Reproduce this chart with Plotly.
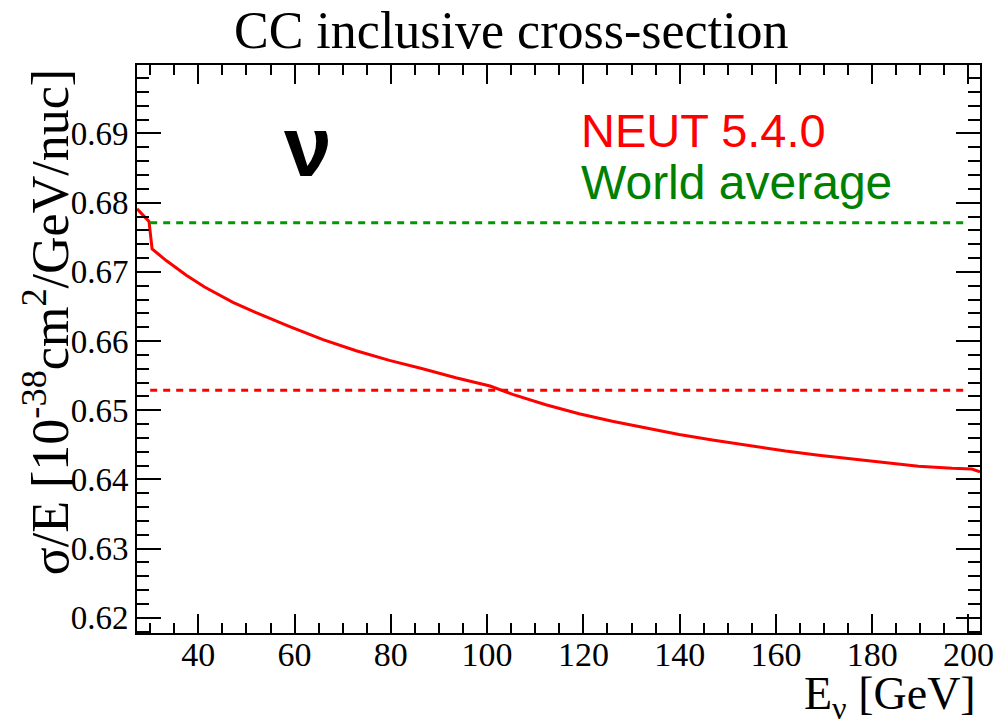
import plotly.graph_objects as go

# ---- data ----
energy_gev = [27.26, 29.75, 30.4, 33.4, 37.5, 41.3, 47.2, 52.0, 59.0, 65.9, 72.8, 79.7,
              86.6, 93.5, 100.6, 105.3, 112.2, 119.1, 126.0, 133.0, 139.9, 146.8,
              155.1, 162.0, 168.9, 175.8, 182.7, 189.6, 196.6, 200.7, 202.4]
neut_xsec = [0.6791, 0.6773, 0.6733, 0.6716, 0.6695, 0.6678, 0.6656, 0.6641, 0.6621,
             0.6602, 0.6586, 0.6572, 0.6560, 0.6547, 0.6535, 0.6523, 0.6508, 0.6495,
             0.6484, 0.6474, 0.6465, 0.6457, 0.6448, 0.6441, 0.6435, 0.6430, 0.6424,
             0.6419, 0.6416, 0.6415, 0.6411]
avg_x = [30.0, 200.0]
neut_avg = [0.6529, 0.6529]
world_avg = [0.6771, 0.6771]

x_range = [27.26, 202.4]
y_range = [0.6178, 0.6999]

OFF = 8  # default page body margin
W, H = 1006 - OFF, 723 - OFF
L, R, T, B = 137 - OFF, 24, 65 - OFF, 90
pw, ph = W - L - R, H - T - B


def px(xp):
    return (xp - OFF - L) / pw


def py(yp):
    return 1 - (yp - OFF - T) / ph


fig = go.Figure()
fig.add_trace(go.Scatter(x=energy_gev, y=neut_xsec, mode="lines",
                         line=dict(color="#ff0000", width=3), showlegend=False))
fig.add_trace(go.Scatter(x=avg_x, y=neut_avg, mode="lines",
                         line=dict(color="#ff0000", width=3, dash="7px,6px"), showlegend=False))
fig.add_trace(go.Scatter(x=avg_x, y=world_avg, mode="lines",
                         line=dict(color="#009900", width=3, dash="7px,6px"), showlegend=False))

serif = "Liberation Serif"
sans = "Liberation Sans"

fig.update_layout(
    width=W, height=H, autosize=False,
    margin=dict(l=L, r=R, t=T, b=B, pad=0),
    paper_bgcolor="white", plot_bgcolor="white",
    xaxis=dict(range=x_range, showgrid=False, zeroline=False,
               showline=True, linecolor="black", linewidth=2, mirror="allticks",
               ticks="inside", ticklen=19, tickwidth=1.5, tickcolor="black",
               tick0=0, dtick=20, ticklabelstandoff=-10,
               minor=dict(ticks="inside", ticklen=10, tickwidth=1.5, tickcolor="black", dtick=5, tick0=0),
               tickfont=dict(family=serif, size=34, color="black")),
    yaxis=dict(range=y_range, showgrid=False, zeroline=False,
               showline=True, linecolor="black", linewidth=2, mirror="allticks",
               ticks="inside", ticklen=24, tickwidth=1.5, tickcolor="black",
               tick0=0, dtick=0.01, tickformat=".2f",
               minor=dict(ticks="inside", ticklen=12, tickwidth=1.5, tickcolor="black", dtick=0.002, tick0=0),
               tickfont=dict(family=serif, size=33, color="black")),
)

annotations = [
    dict(text="CC inclusive cross-section", x=px(512), y=py(31), xanchor="center", yanchor="middle",
         font=dict(family=serif, size=52, color="black")),
    dict(text="σ/E [10<sup>-38</sup>cm<sup>2</sup>/GeV/nuc]", x=px(46), y=py(322), textangle=-90,
         xanchor="center", yanchor="middle", font=dict(family=serif, size=52, color="black")),
    dict(text="E<sub>ν</sub> [GeV]", x=px(980), y=py(697), xanchor="right", yanchor="middle",
         font=dict(family=serif, size=46, color="black")),
    dict(text="<b>ν</b>", x=px(308), y=py(146), xanchor="center", yanchor="middle",
         font=dict(family=sans, size=86, color="black")),
    dict(text="NEUT 5.4.0", x=px(580), y=py(130), xanchor="left", yanchor="middle",
         font=dict(family=sans, size=47, color="#ff0000")),
    dict(text="World average", x=px(580), y=py(182), xanchor="left", yanchor="middle",
         font=dict(family=sans, size=48, color="#008000")),
]
for a in annotations:
    a.update(xref="paper", yref="paper", showarrow=False)
fig.update_layout(annotations=annotations)

fig.write_html("out.html")
